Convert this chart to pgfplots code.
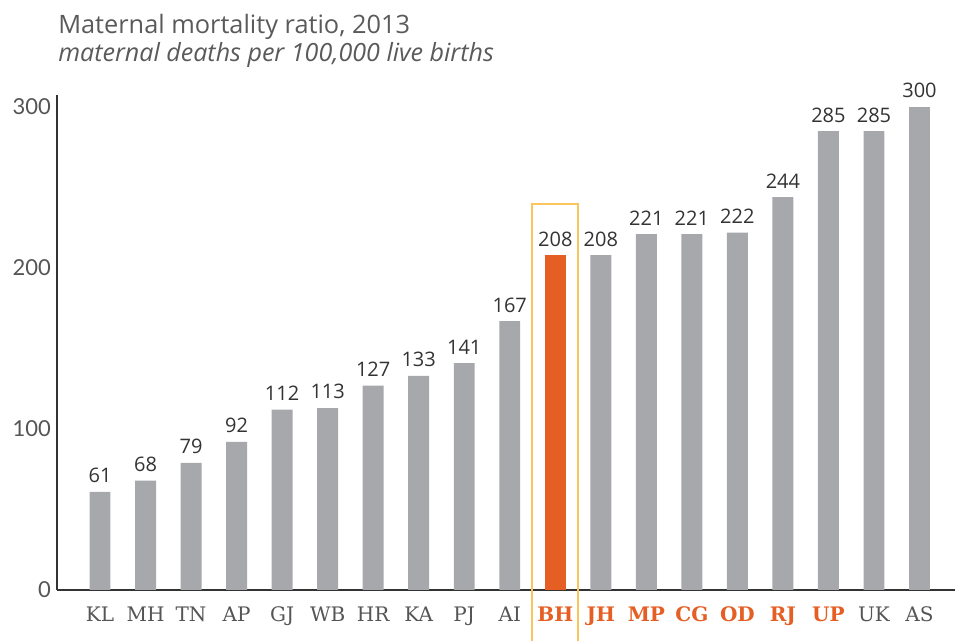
\documentclass[border=0pt]{standalone}
\usepackage{pgfplots}
\pgfplotsset{compat=1.18}
\usepackage{fontspec}
\setmainfont{Open Sans}
\newfontfamily\slab{DejaVu Serif}
\newfontfamily\ylab{Lato}
\definecolor{barg}{HTML}{A7A8AC}
\definecolor{orng}{HTML}{E55F25}
\definecolor{hlbox}{HTML}{FBC55E}
\definecolor{txt}{HTML}{333333}
\definecolor{ttl}{HTML}{5A5A5C}
\definecolor{lab}{HTML}{555555}
\begin{document}
\begin{tikzpicture}
\useasboundingbox (-42.75pt,-38.25pt) rectangle (674.25pt,442.5pt);
\node[anchor=base west, font=\fontsize{19}{22}\selectfont, text=ttl, inner sep=0pt] at (0.75pt,417pt) {Maternal mortality ratio, 2013};
\node[anchor=base west, font=\fontsize{18.8}{22}\selectfont\itshape, text=ttl, inner sep=0pt] at (0.75pt,396pt) {maternal deaths per 100,000 live births};
\begin{axis}[
  at={(0,0)}, anchor=south west,
  scale only axis,
  width=673.5pt, height=371.25pt,
  xmin=-0.945, xmax=18.78,
  ymin=0, ymax=307.5,
  axis x line*=bottom, axis y line*=left,
  axis line style={draw=txt, line width=1pt, -},
  ytick={0,100,200,300},
  xtick={0,...,18},
  xticklabels={KL,MH,TN,AP,GJ,WB,HR,KA,PJ,AI,
    \textbf{\color{orng}BH},\textbf{\color{orng}JH},\textbf{\color{orng}MP},\textbf{\color{orng}CG},\textbf{\color{orng}OD},\textbf{\color{orng}RJ},\textbf{\color{orng}UP},UK,AS},
  major tick length=0pt,
  /pgf/number format/assume math mode=true,
  yticklabel style={font=\ylab\fontsize{16.5}{18}\selectfont, text=lab, xshift=-1pt},
  xticklabel style={font=\slab\fontsize{15}{17}\selectfont, text=lab, yshift=-9pt},
  ybar, bar shift=0pt, bar width=0.46,
  nodes near coords,
  every node near coord/.append style={font=\fontsize{15}{17}\selectfont, text=txt, inner sep=0pt, yshift=6.5pt},
  clip=false,
]
\addplot[fill=barg, draw=none] coordinates {
 (0,61) (1,68) (2,79) (3,92) (4,112) (5,113) (6,127) (7,133) (8,141) (9,167)
 (11,208) (12,221) (13,221) (14,222) (15,244) (16,285) (17,285) (18,300)};
\addplot[fill=orng, draw=none] coordinates {(10,208)};
\draw[hlbox, line width=1.6pt] (axis cs:9.495,-33) -- (axis cs:9.495,239.7) -- (axis cs:10.505,239.7) -- (axis cs:10.505,-33);
\end{axis}
\end{tikzpicture}
\end{document}
